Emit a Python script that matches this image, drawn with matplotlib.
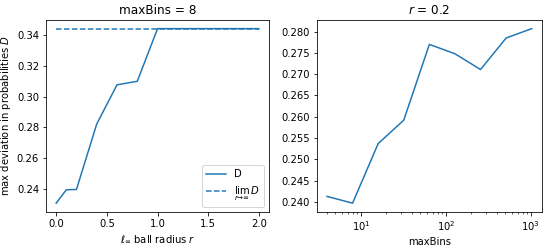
import numpy as np
import matplotlib
matplotlib.use("Agg")
from matplotlib import pyplot as plt
from matplotlib.ticker import MultipleLocator, FormatStrFormatter

# left panel: maxBins = 8, D vs ball radius r
radius = [0.0, 0.1, 0.2, 0.4, 0.6, 0.8, 1.0, 1.2, 1.4, 1.6, 1.8, 2.0]
dev_r = [0.2308, 0.2395, 0.2397, 0.2822, 0.3077, 0.3100, 0.3442,
         0.3442, 0.3442, 0.3442, 0.3442, 0.3442]
dev_lim = 0.3442

# right panel: r = 0.2, D vs maxBins
maxbins = [4, 8, 16, 32, 64, 128, 256, 512, 1024]
dev_bins = [0.2413, 0.2397, 0.2537, 0.2592, 0.2770, 0.2748, 0.2711, 0.2785, 0.2807]

fig = plt.figure(figsize=(548/72, 249/72), dpi=72, facecolor="w")
ax1 = fig.add_axes([0.084, 0.149, 0.407, 0.771])
ax2 = fig.add_axes([0.578, 0.149, 0.411, 0.771])

ax1.plot(radius, dev_r, "-", color="C0", label="D")
ax1.plot([radius[0], radius[-1]], [dev_lim, dev_lim], "--", color="C0",
         label=r"$\lim_{r\to\infty}\, D$")
ax1.set_title("maxBins = 8")
ax1.set_xlabel(r"$\ell_\infty$ ball radius $r$")
ax1.set_ylabel(r"max deviation in probabilities $D$")
ax1.legend(loc="lower right")

ax2.plot(maxbins, dev_bins, "-", color="C0")
ax2.set_xscale("log")
ax2.yaxis.set_major_locator(MultipleLocator(0.005))
ax2.yaxis.set_major_formatter(FormatStrFormatter("%.3f"))
ax2.set_title(r"$r$ = 0.2")
ax2.set_xlabel("maxBins")

fig.savefig("out.png", dpi=72)
